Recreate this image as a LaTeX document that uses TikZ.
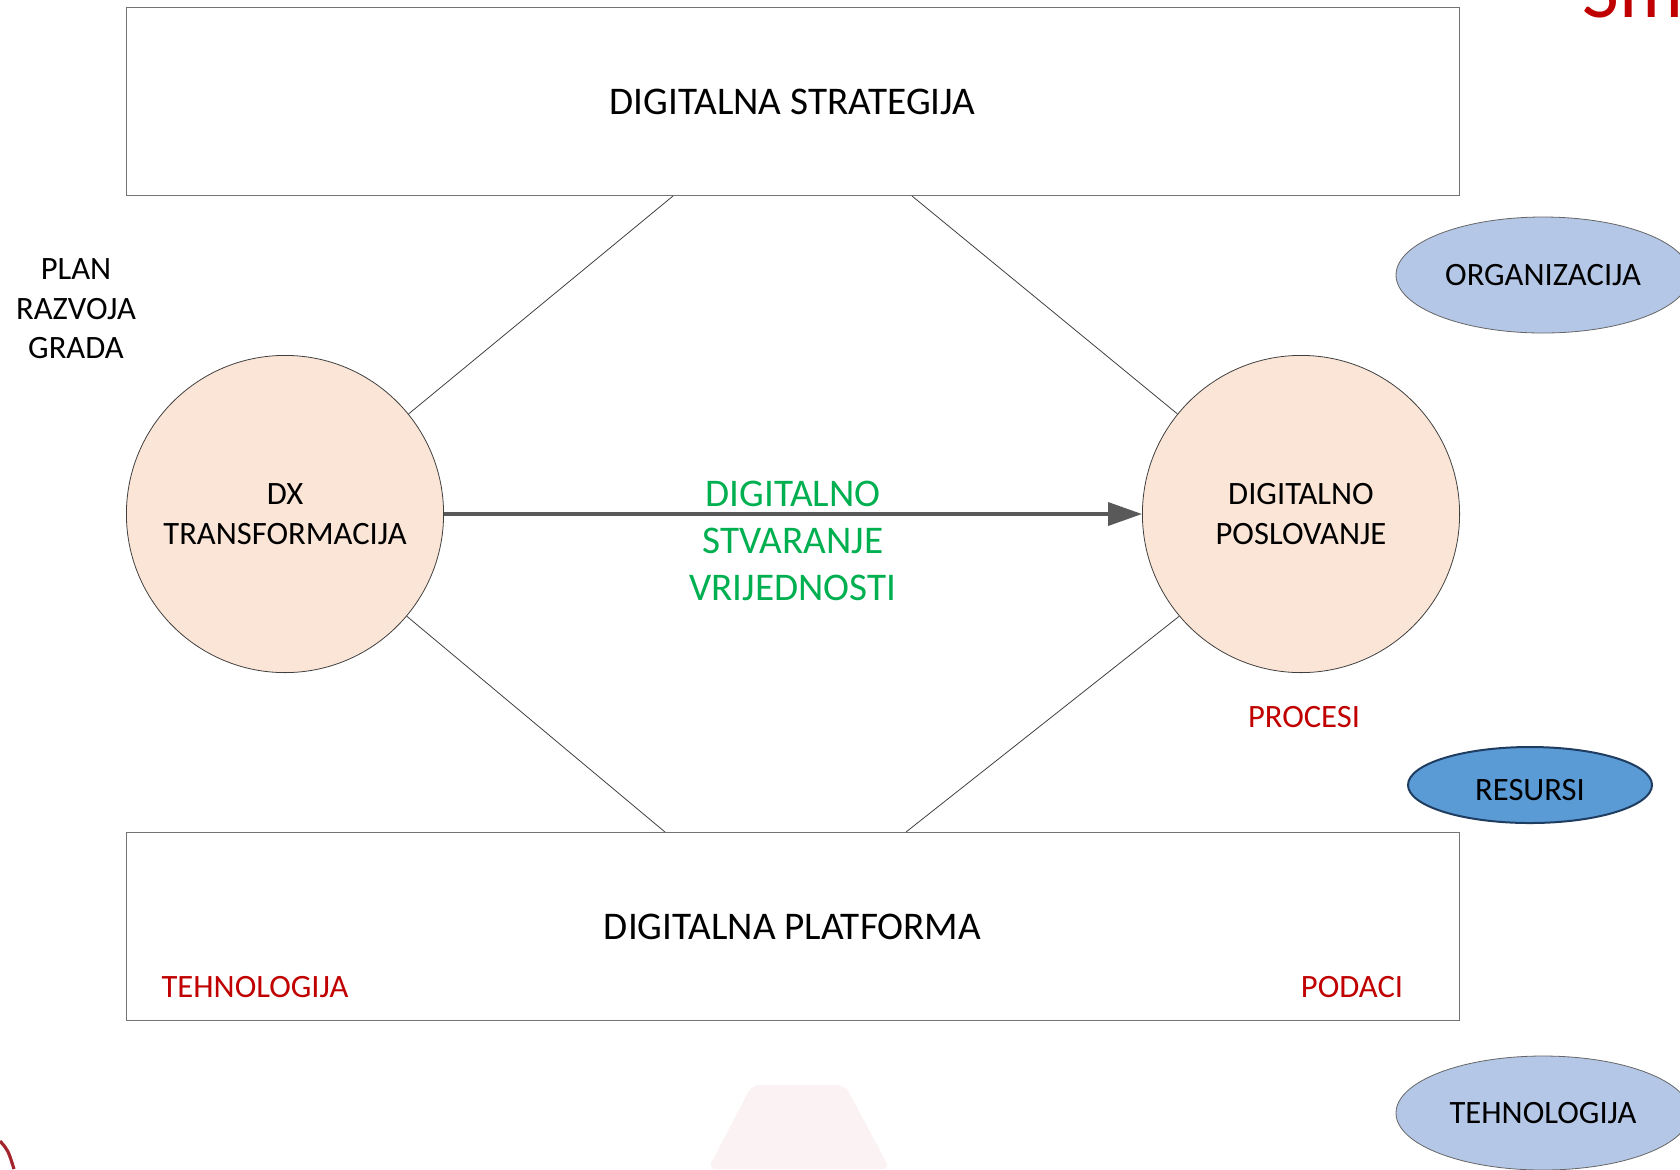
\documentclass[tikz,border=0pt]{standalone}
\usepackage{fontspec}
\setmainfont{Carlito}
\usetikzlibrary{shapes.geometric,arrows.meta}
\definecolor{peach}{HTML}{FBE5D6}
\definecolor{lblue}{HTML}{B4C7E7}
\definecolor{mblue}{HTML}{5B9BD5}
\definecolor{dblue}{HTML}{1F3D60}
\definecolor{dred}{HTML}{C00000}
\definecolor{logored}{HTML}{A3262E}
\definecolor{dgreen}{HTML}{00B050}
\definecolor{agray}{HTML}{595959}
\definecolor{faint}{HTML}{FBF3F3}

\begin{document}
\begin{tikzpicture}
[x=0.5pt,y=-0.5pt,every node/.style={font=\fontsize{16.3}{19.8}\selectfont,align=center,inner sep=0pt},
box/.style={draw=black!55,line width=0.5pt,minimum width=666.5pt,minimum height=94.25pt},
disc/.style={circle,draw=black!75,line width=0.4pt,fill=peach,minimum size=158.6pt},
oval/.style={ellipse,draw=black!60,line width=0.4pt,fill=lblue,minimum width=147pt,minimum height=58pt},
red/.style={text=dred}]
\useasboundingbox (0,0) rectangle (1680,1169);
\fill[faint,rounded corners=4pt] (752,1085) -- (845,1085) -- (890,1169) -- (708,1169) -- cycle;
\draw[logored,line width=1.6pt] (0,1141) .. controls (8,1150) .. (14,1169);
\node[anchor=base west,text=dred,font=\fontsize{40}{48}\selectfont] (sm) at (1582,17) {Sm};
\node[box] (strat) at (792.5,101.7) {\fontsize{19.6}{23.6}\selectfont DIGITALNA STRATEGIJA};
\node[box] (plat) at (792.5,926.5) {\fontsize{19.6}{23.6}\selectfont DIGITALNA PLATFORMA};
\node[disc] (dx) at (285,514) {DX\\TRANSFORMACIJA};
\node[disc] (dp) at (1301,514) {DIGITALNO\\POSLOVANJE};
\node (plan) at (76,309) {PLAN\\RAZVOJA\\GRADA};
\node[text=dgreen,font=\fontsize{19.6}{23.6}\selectfont] (val) at (793,541) {DIGITALNO\\STVARANJE\\VRIJEDNOSTI};
\node[red] (proc) at (1304,717) {PROCESI};
\node[red] (tech) at (255,987) {TEHNOLOGIJA};
\node[red] (data) at (1352,987) {PODACI};
\node[oval] (org) at (1543,275) {ORGANIZACIJA};
\node[oval,fill=mblue,draw=dblue,line width=1pt,minimum width=122pt,minimum height=38pt,text height=15.5pt,text depth=0pt] (res) at (1530,785) {RESURSI};
\node[oval,minimum height=57pt] (teh) at (1543,1113) {TEHNOLOGIJA};
\coordinate (s1) at (673,196);
\coordinate (s2) at (912,196);
\coordinate (p1) at (665,832);
\coordinate (p2) at (906,832);
\foreach \from/\to in {dx.39/s1,dp.141/s2,dx.-40/p1,dp.-140/p2}
\draw[black!75,line width=0.4pt] (\from) -- (\to);
\draw[agray,line width=1.8pt,-{Triangle[length=17pt,width=11.5pt]}] (dx) -- (dp);
\end{tikzpicture}
\end{document}
